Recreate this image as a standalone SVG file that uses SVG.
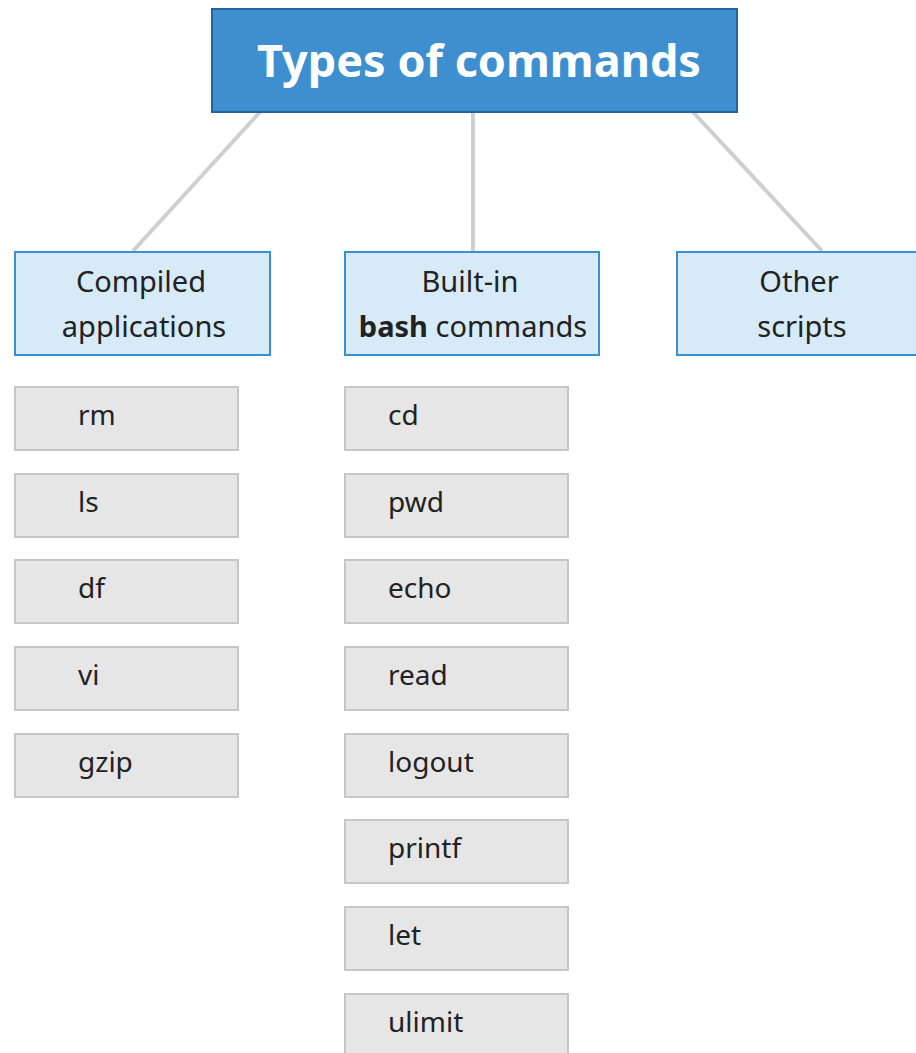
<svg xmlns="http://www.w3.org/2000/svg" width="916" height="1053" viewBox="0 0 916 1053">
<style>
.title{fill:#3d8fcf;stroke:#25619a;stroke-width:2}
.cat{fill:#d7eaf8;stroke:#3a8fd0;stroke-width:2}
.item{fill:#e6e6e6;stroke:#c6c6c6;stroke-width:2}
.conn{stroke:#cfcfcf;stroke-width:4;fill:none}
text{font-family:"Noto Sans","Open Sans",sans-serif;fill:#222;font-size:28px}
.cat + text, .ct{font-size:29px}
.tt{fill:#fff;font-weight:bold;font-size:45px}
.c{text-anchor:middle}
</style>
<rect width="916" height="1053" fill="#fff"/>
<g id="connectors">
<line class="conn" x1="260" y1="112" x2="133" y2="251"/>
<line class="conn" x1="473" y1="112" x2="473" y2="251"/>
<line class="conn" x1="693" y1="112" x2="822" y2="251"/>
</g>
<g id="title"><rect class="title" x="212" y="9" width="525" height="103"/><text class="tt c" x="479" y="77">Types of commands</text></g>
<g id="compiled"><rect class="cat" x="15" y="252" width="255" height="103"/><text class="c ct" x="141" y="292">Compiled</text><text class="c ct" x="144" y="337">applications</text></g>
<g id="builtin"><rect class="cat" x="345" y="252" width="254" height="103"/><text class="c ct" x="470" y="292">Built-in</text><text class="c ct" x="473" y="337"><tspan font-weight="bold">bash</tspan> commands</text></g>
<g id="other"><rect class="cat" x="677" y="252" width="240" height="103"/><text class="c ct" x="799" y="292">Other</text><text class="c ct" x="802" y="337">scripts</text></g>
<g id="rm"><rect class="item" x="15" y="387" width="223" height="63"/><text x="78" y="425">rm</text></g>
<g id="ls"><rect class="item" x="15" y="474" width="223" height="63"/><text x="78" y="512">ls</text></g>
<g id="df"><rect class="item" x="15" y="560" width="223" height="63"/><text x="78" y="598">df</text></g>
<g id="vi"><rect class="item" x="15" y="647" width="223" height="63"/><text x="78" y="685">vi</text></g>
<g id="gzip"><rect class="item" x="15" y="734" width="223" height="63"/><text x="78" y="772">gzip</text></g>
<g id="cd"><rect class="item" x="345" y="387" width="223" height="63"/><text x="388" y="425">cd</text></g>
<g id="pwd"><rect class="item" x="345" y="474" width="223" height="63"/><text x="388" y="512">pwd</text></g>
<g id="echo"><rect class="item" x="345" y="560" width="223" height="63"/><text x="388" y="598">echo</text></g>
<g id="read"><rect class="item" x="345" y="647" width="223" height="63"/><text x="388" y="685">read</text></g>
<g id="logout"><rect class="item" x="345" y="734" width="223" height="63"/><text x="388" y="772">logout</text></g>
<g id="printf"><rect class="item" x="345" y="820" width="223" height="63"/><text x="388" y="858">printf</text></g>
<g id="let"><rect class="item" x="345" y="907" width="223" height="63"/><text x="388" y="945">let</text></g>
<g id="ulimit"><rect class="item" x="345" y="994" width="223" height="63"/><text x="388" y="1032">ulimit</text></g>
</svg>
